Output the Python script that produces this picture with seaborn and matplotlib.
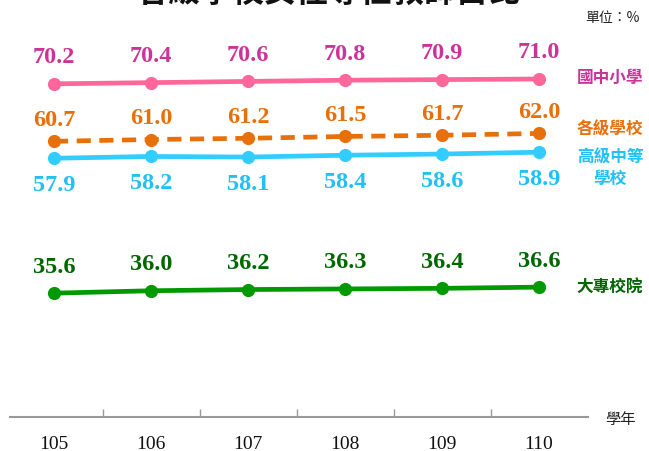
import matplotlib
matplotlib.use("Agg")
import matplotlib.pyplot as plt
import seaborn as sns
import pandas as pd
import numpy as np

years = ["105", "106", "107", "108", "109", "110"]
elem = [70.2, 70.4, 70.6, 70.8, 70.9, 71.0]
all_schools = [60.7, 61.0, 61.2, 61.5, 61.7, 62.0]
senior = [57.9, 58.2, 58.1, 58.4, 58.6, 58.9]
univ = [35.6, 36.0, 36.2, 36.3, 36.4, 36.6]

names = ["國中小學", "各級學校", "高級中等\n學校", "大專校院"]
series = [elem, all_schools, senior, univ]
line_colors = ["#FF6699", "#E8700A", "#33CCFF", "#009900"]
text_colors = ["#CC3399", "#E8700A", "#22C0F5", "#006600"]
label_offsets = [19.5, 16, -19, 19.5]  # points
legend_y = [78, 129, 168, 288]  # px

sns.set_theme(style="white")
plt.rcParams['font.family'] = ['Noto Sans CJK TC', 'DejaVu Sans']

W, H = 649, 452
fig = plt.figure(figsize=(W / 100, H / 100), dpi=100)
ax = fig.add_axes([10 / W, 1 - 418 / H, (588 - 10) / W, 418 / H])

x = np.arange(len(years))
for i, (vals, lc) in enumerate(zip(series, line_colors)):
    df = pd.DataFrame({"x": x, "y": vals})
    sns.lineplot(data=df, x="x", y="y", ax=ax, color=lc, lw=3.4,
                 marker="o", markersize=9.5, markeredgewidth=0)
    if i == 1:
        ax.lines[-1].set_dashes([3, 1.8])
    for xi, v in zip(x, vals):
        ax.annotate(f"{v:.1f}", (xi, v), xytext=(0, label_offsets[i]),
                    textcoords="offset points", ha="center", va="center",
                    fontsize=17.5, fontweight="bold", color=text_colors[i],
                    family="Liberation Serif")
    fig.text(610 / W, 1 - legend_y[i] / H, names[i], ha="center", va="center",
             fontsize=12, fontweight="bold", color=text_colors[i],
             linespacing=1.25)

ax.set_xlim(-44 / 97, 5 + 49 / 97)
ax.set_ylim(71.0 - (418 - 80) / 6.05, 71.0 + 80 / 6.05)
for s in ["top", "left", "right"]:
    ax.spines[s].set_visible(False)
ax.spines["bottom"].set_color("#999999")
ax.spines["bottom"].set_linewidth(1.5)
ax.set_yticks([])
ax.set_xticks(x)
ax.set_xticklabels(years, family="Liberation Serif", fontsize=14, color="#111111")
ax.set_xticks(np.arange(0.5, 5, 1), minor=True)
ax.tick_params(axis="x", which="major", length=0, pad=13)
ax.tick_params(axis="x", which="minor", direction="in", length=6,
               width=1, color="#999999", bottom=True)
ax.set_xlabel("")
ax.set_ylabel("")

fig.text(620 / W, 1 - 420 / H, "學年", ha="center", va="center", fontsize=11, color="#222222")
fig.text(612 / W, 1 - 18 / H, "單位：%", ha="center", va="center", fontsize=10, color="#222222")
fig.text(328 / W, 1 + 7 / H, "各級學校女性專任教師占比", ha="center", va="center",
         fontsize=23, fontweight="bold", color="#111111")

fig.savefig("out.png", dpi=100)
